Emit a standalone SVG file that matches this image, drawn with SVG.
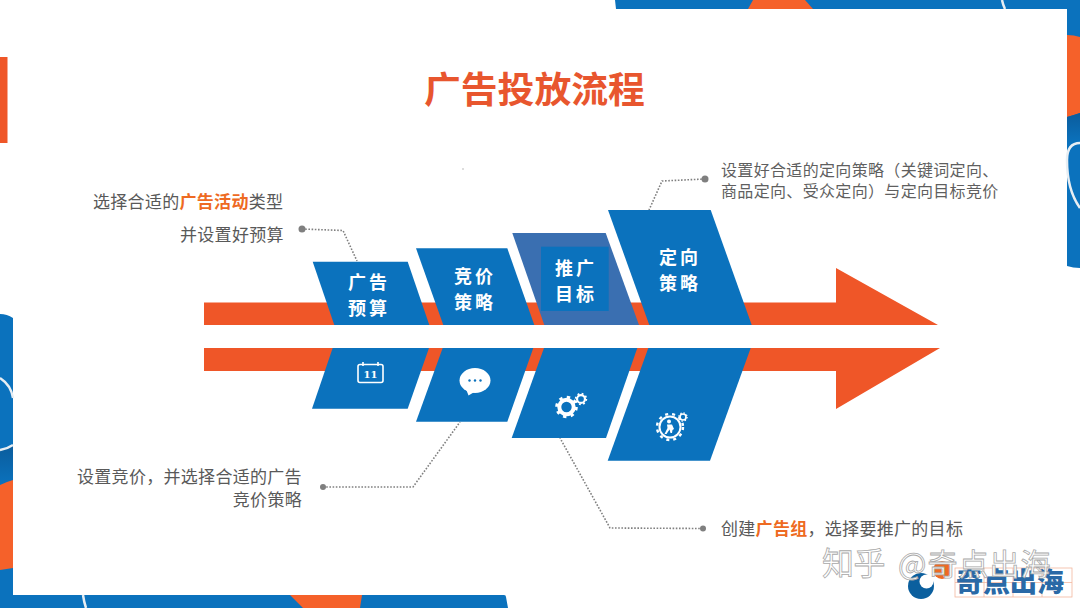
<svg xmlns="http://www.w3.org/2000/svg" width="1080" height="608" viewBox="0 0 1080 608">
<style>
text{font-family:"Noto Sans CJK SC","Liberation Sans",sans-serif}
.blue{fill:#0b72bd}.or{fill:#ef5628}.bgo{fill:#f5612a}
.lab{font-size:18px;font-weight:700;fill:#fff;letter-spacing:3px}
.body{font-size:17px;fill:#595959;letter-spacing:.3px}
.body2{font-size:16px;fill:#5f5f5f;letter-spacing:.33px}
.hi{fill:#ee6a22;font-weight:700}
.conn{fill:none;stroke:#808080;stroke-width:1.6;stroke-dasharray:1.6 1.6}
.dot{fill:#7f7f7f}
.arc{fill:none;stroke:#e8eef3;stroke-width:2.5}
.ico{fill:none;stroke:#fff}
.wm{font-size:32px;fill:#fff;stroke:#a8a8a8;stroke-width:.8px}
.lg{font-size:27px;font-weight:900;fill:#2a69a6}
.grid{fill:none;stroke:#f2b79f;stroke-width:.8}
</style>
<defs>
<linearGradient id="dk" x1="0" y1="0" x2="0" y2="1"><stop offset="0" stop-color="#0b5c9c"/><stop offset="1" stop-color="#0b72bd"/></linearGradient>
<g id="gear"><circle r="7.2" fill="none" stroke="#fff" stroke-width="4"/><circle r="9.8" fill="none" stroke="#fff" stroke-width="3" stroke-dasharray="3.3 4.4"/></g>
</defs>
<rect width="1080" height="608" fill="#fff"/>
<g id="frame">
<path class="blue" d="M615 0H1080V268Q1073 268 1067 266V9H616Z"/>
<path class="bgo" d="M748 9L753 0H805L813 9Z"/>
<path class="arc" d="M1002 0Q1003 5 1005 9"/>
<path class="bgo" d="M1067 35Q1074 35 1080 37V113Q1074 115 1067 117Z"/>
<path fill="url(#dk)" d="M1067 117Q1074 115 1080 113V143H1067Z"/>
<path class="arc" d="M1080 143Q1067 143 1067 160Q1067 190 1080 208"/>
<rect class="or" x="0" y="57" width="7.5" height="86"/>
<path class="blue" d="M0 314Q7 314 13 318V595H504Q506 595 506 597L508 608H0Z"/>
<path fill="url(#dk)" d="M0 450L13 445V481L0 485Z"/>
<path class="bgo" d="M0 485Q6 482 13 480V568L0 570Z"/>
<path class="arc" d="M0 378Q11 385 13 398M13 445Q7 449 0 450"/>
<path class="bgo" d="M290 595H362L360 608H303Z"/>
<path class="arc" d="M83 595Q84 602 86 608"/>
</g>
<rect id="speck" x="462.500" y="168.500" width="1" height="1" fill="#777"/>
<text id="title" x="424" y="103" font-size="36.800" font-weight="700" fill="#e8562e">广告投放流程</text>
<g id="arrows">
<path class="or" d="M204 302.500H836V268L938 325H204Z"/>
<path class="or" d="M204 348H940L836 409V371H204Z"/>
</g>
<g id="connectors">
<path class="conn" d="M302 229L343 230.500L357 261"/>
<path class="conn" d="M705 179L662 181L649 210"/>
<path class="conn" d="M323 487H413L460 422"/>
<path class="conn" d="M703 528.500L610 528L560 438"/>
<circle class="dot" cx="302" cy="229" r="3.500"/>
<circle class="dot" cx="705" cy="179" r="3.500"/>
<circle class="dot" cx="323" cy="487" r="3"/>
<circle class="dot" cx="703" cy="528.500" r="3"/>
</g>
<g id="node-1">
<path class="blue" d="M312.700 261.700H407.700L429.300 325H334.300Z"/>
<text class="lab" x="348" y="289">广告</text><text class="lab" x="348" y="315">预算</text>
</g>
<g id="node-2">
<path class="blue" d="M416 248.300H507.300L534.300 325H443.300Z"/>
<text class="lab" x="454" y="283">竞价</text><text class="lab" x="454" y="308.500">策略</text>
</g>
<g id="node-3">
<path fill="#3a6fb1" d="M512.300 233H605.700L639 325H544.300Z"/>
<rect class="blue" x="541" y="246.700" width="67.700" height="64.300"/>
<text class="lab" x="555" y="275">推广</text><text class="lab" x="555" y="301">目标</text>
</g>
<g id="node-4">
<path class="blue" d="M608 210H710.700L751.700 325H649.300Z"/>
<text class="lab" x="659" y="264">定向</text><text class="lab" x="659" y="290">策略</text>
</g>
<g id="icon-1">
<path class="blue" d="M332.700 348H429L407.700 408.700H312Z"/>
<rect class="ico" x="358" y="364.500" width="25" height="18" rx="2" stroke-width="1.600"/>
<path class="ico" d="M363 362V366M378 362V366" stroke-width="1.600"/>
<text x="370.500" y="378" font-size="10" font-weight="700" fill="#fff" text-anchor="middle" style="font-family:'DejaVu Serif',serif">11</text>
</g>
<g id="icon-2">
<path class="blue" d="M442.700 348H533.300L507.300 421.700H416Z"/>
<ellipse cx="475" cy="380.500" rx="15.500" ry="12.500" fill="#fff"/>
<path d="M466 389L468.500 395.500L476 391Z" fill="#fff"/>
<circle cx="469.500" cy="380.500" r="1.200" fill="#0b72bd"/><circle cx="475" cy="380.500" r="1.200" fill="#0b72bd"/><circle cx="480.500" cy="380.500" r="1.200" fill="#0b72bd"/>
</g>
<g id="icon-3">
<path class="blue" d="M544 348H637.300L606 438H511.700Z"/>
<use href="#gear" transform="translate(566.500 407)"/>
<use href="#gear" transform="translate(581 399) scale(.55)"/>
</g>
<g id="icon-4">
<path class="blue" d="M648.300 348H750.700L710 460.700H607.700Z"/>
<circle class="ico" cx="670" cy="427" r="10.500" stroke-width="2"/>
<circle class="ico" cx="670" cy="427" r="13" stroke-width="2.400" stroke-dasharray="3 4"/>
<circle cx="669" cy="421.500" r="2" fill="#fff"/>
<path d="M667 424.500H672L674 429L672.500 430L672 433H670.500L669.500 429.500L666.500 434H664.500L667.500 428Z" fill="#fff"/>
<use href="#gear" transform="translate(683 417) scale(.42)"/>
</g>
<g id="caption-1">
<text class="body" x="93" y="208">选择合适的<tspan class="hi">广告活动</tspan>类型</text>
<text class="body" x="180" y="241">并设置好预算</text>
</g>
<g id="caption-2">
<text class="body2" x="721" y="175.500">设置好合适的定向策略（关键词定向、</text>
<text class="body2" x="721" y="196.500">商品定向、受众定向）与定向目标竞价</text>
</g>
<g id="caption-3">
<text class="body" x="77" y="483">设置竞价，并选择合适的广告</text>
<text class="body" x="302" y="506" text-anchor="end">竞价策略</text>
</g>
<g id="caption-4">
<text class="body" x="721" y="535">创建<tspan class="hi">广告组</tspan>，选择要推广的目标</text>
</g>
<g id="watermark">
<circle cx="942" cy="570" r="9" fill="#ee6a22"/>
<circle cx="921" cy="586" r="13" fill="#0b5f9e"/>
<circle cx="926.500" cy="581.500" r="7" fill="#fff"/>
<rect class="grid" x="955" y="568" width="117" height="29"/>
<path class="grid" d="M984 568V597M1013 568V597M1042 568V597M955 582.500H1072"/>
<text class="lg" x="956" y="592">奇点出海</text>
<text class="wm" x="822" y="575" style="letter-spacing:-.5px">知乎</text>
<text class="wm" x="898" y="575" style="font-size:30px;letter-spacing:1px">@奇点出海</text>
</g>
</svg>
